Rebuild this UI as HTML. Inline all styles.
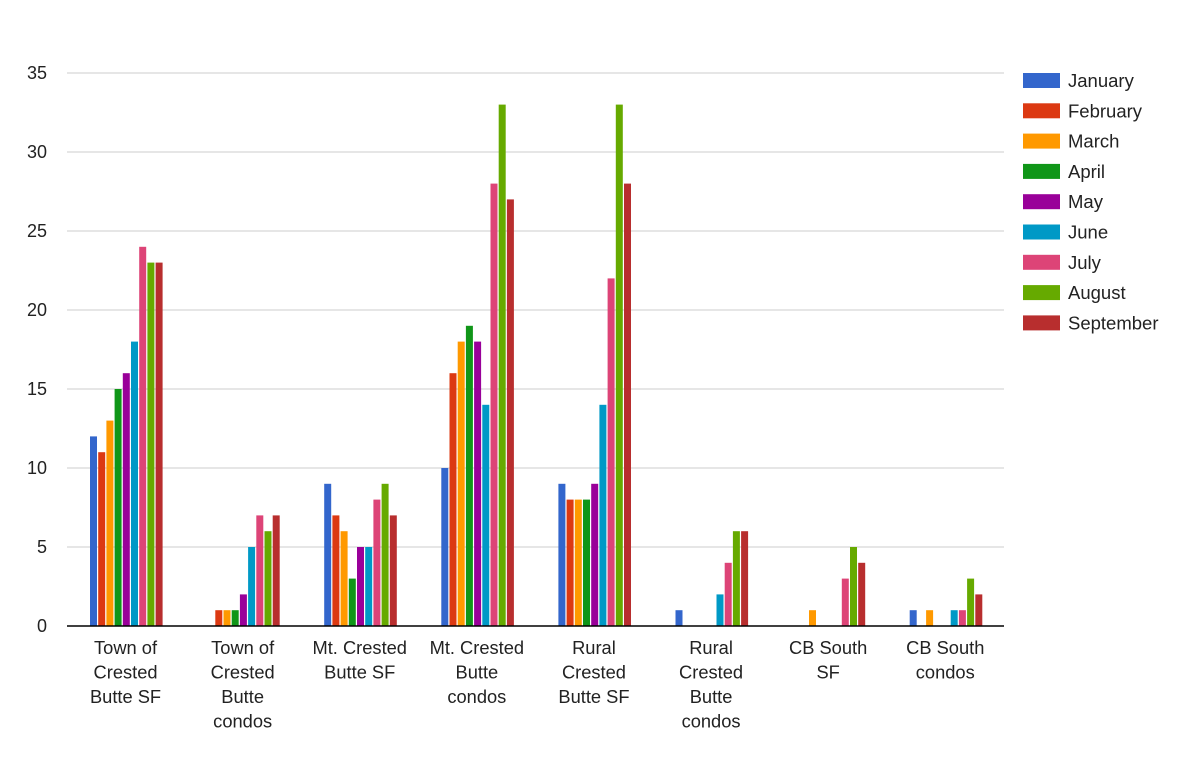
<!DOCTYPE html><html><head><style>body{margin:0;background:#fff}svg{display:block;font-family:"Liberation Sans",sans-serif}</style></head><body>
<svg id="c" width="1200" height="763" xmlns="http://www.w3.org/2000/svg"></svg>
<script>
const s=document.getElementById('c');let h='';
const col=['#3366cc','#dc3912','#ff9900','#109618','#990099','#0099c6','#dd4477','#66aa00','#b82e2e'];
const names=['January','February','March','April','May','June','July','August','September'];
const d=[[12,11,13,15,16,18,24,23,23],[0,1,1,1,2,5,7,6,7],[9,7,6,3,5,5,8,9,7],[10,16,18,19,18,14,28,33,27],[9,8,8,8,9,14,22,33,28],[1,0,0,0,0,2,4,6,6],[0,0,1,0,0,0,3,5,4],[1,0,1,0,0,1,1,3,2]];
const labs=[['Town of','Crested','Butte SF'],['Town of','Crested','Butte','condos'],['Mt. Crested','Butte SF'],['Mt. Crested','Butte','condos'],['Rural','Crested','Butte SF'],['Rural','Crested','Butte','condos'],['CB South','SF'],['CB South','condos']];
const y0=626,u=553/35;
for(let k=0;k<=7;k++){const y=y0-k*5*u;if(k>0)h+=`<line x1="67" x2="1004" y1="${y}" y2="${y}" stroke="#ccc" stroke-width="1"/>`;h+=`<text x="47" y="${y+6}" font-size="18" text-anchor="end" fill="#222">${k*5}</text>`;}
const gw=117.1;
d.forEach((g,i)=>{g.forEach((v,j)=>{if(!v)return;const x=67+i*gw+23+j*8.2;const hh=v*u;h+=`<rect x="${x}" y="${y0-hh}" width="7" height="${hh}" fill="${col[j]}"/>`;});
const cx=67+i*gw+gw/2;labs[i].forEach((t,l)=>{h+=`<text x="${cx}" y="${654+l*24.5}" font-size="18.3" text-anchor="middle" fill="#222">${t}</text>`;});});
h+=`<line x1="67" x2="1004" y1="${y0}" y2="${y0}" stroke="#000" stroke-width="1.5"/>`;
names.forEach((n,i)=>{const y=73+i*30.3;h+=`<rect x="1023" y="${y}" width="37" height="15" fill="${col[i]}"/><text x="1068" y="${y+14}" font-size="18.5" fill="#222">${n}</text>`;});
s.innerHTML=h;
</script></body></html>
